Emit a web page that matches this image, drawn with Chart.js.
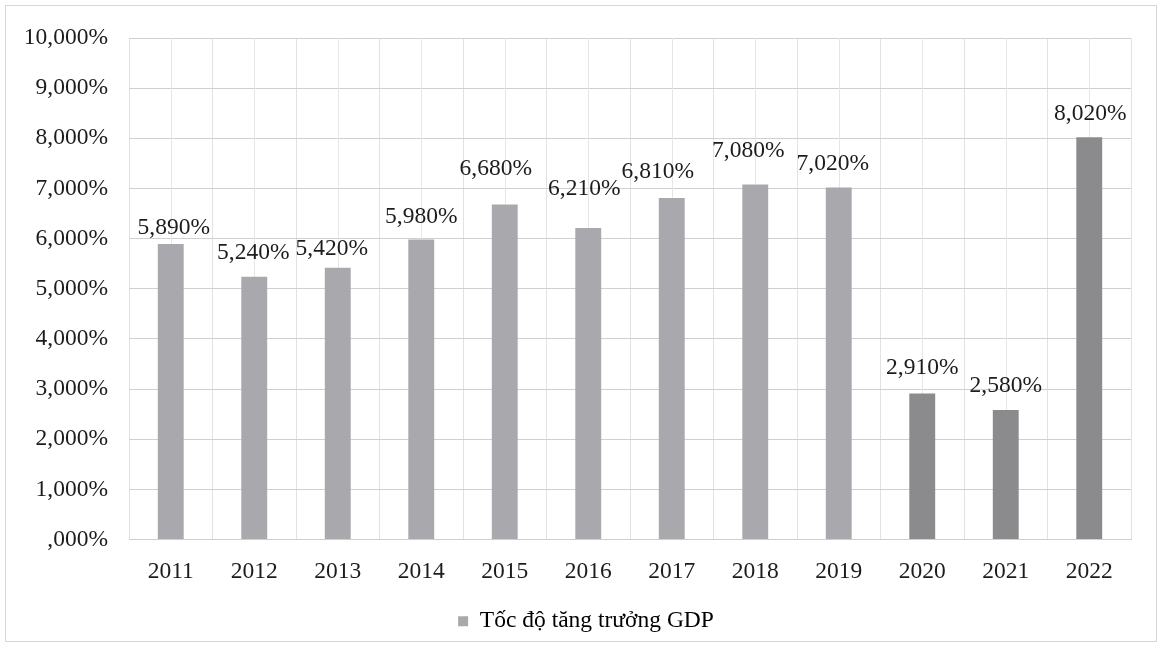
<!DOCTYPE html>
<html>
<head>
<meta charset="utf-8">
<script src="https://cdn.jsdelivr.net/npm/chart.js@4"></script>
<style>
  html, body { margin: 0; padding: 0; background: #fff; }
  #wrap { position: relative; width: 1160px; height: 655px; }
  #frame { position: absolute; left: 5px; top: 5px; width: 1152px; height: 637px; border: 1px solid #d6d6d6; box-sizing: border-box; pointer-events: none; }
  canvas { position: absolute; left: 0; top: 0; }
</style>
</head>
<body>
<div id="wrap">
  <canvas id="c" width="1160" height="655"></canvas>
  <div id="frame"></div>
</div>
<script>
const categories = ["2011","2012","2013","2014","2015","2016","2017","2018","2019","2020","2021","2022"];
const gdpGrowth = [5.89, 5.24, 5.42, 5.98, 6.68, 6.21, 6.81, 7.08, 7.02, 2.91, 2.58, 8.02];
const valueLabels = ["5,890%","5,240%","5,420%","5,980%","6,680%","6,210%","6,810%","7,080%","7,020%","2,910%","2,580%","8,020%"];
const tickLabels = [",000%","1,000%","2,000%","3,000%","4,000%","5,000%","6,000%","7,000%","8,000%","9,000%","10,000%"];
const seriesName = "Tốc độ tăng trưởng GDP";

// label placement tweaks (pixels), matching the reference's manual label positions
const labelRise = [16, 24, 19, 23, 36, 39, 26, 34, 24, 26, 24, 23];
const labelShift = [3, -1, -6, 0, -9, -4, -14, -7, -6, 0, 0, 1];

const FONT = '"Liberation Serif", "Times New Roman", serif';
const FS = 23.5;
const barColors = categories.map((c, i) => i < 9 ? '#a9a8ad' : '#8b8b8d');

const centerGrid = {
  id: 'centerGrid',
  beforeDatasetsDraw(chart) {
    const { ctx, chartArea, scales } = chart;
    ctx.save();
    ctx.strokeStyle = '#e6e6e6';
    ctx.lineWidth = 1;
    categories.forEach((c, i) => {
      const x = Math.round(scales.x.getPixelForValue(i)) + 0.5;
      ctx.beginPath();
      ctx.moveTo(x, chartArea.top);
      ctx.lineTo(x, chartArea.bottom);
      ctx.stroke();
    });
    ctx.restore();
  }
};

const valueLabelPlugin = {
  id: 'valueLabels',
  afterDatasetsDraw(chart) {
    const { ctx } = chart;
    const meta = chart.getDatasetMeta(0);
    ctx.save();
    ctx.font = FS + 'px ' + FONT;
    ctx.fillStyle = '#1c1c1c';
    ctx.textAlign = 'center';
    ctx.textBaseline = 'middle';
    meta.data.forEach((bar, i) => {
      ctx.fillText(valueLabels[i], bar.x + labelShift[i], bar.y - labelRise[i]);
    });
    ctx.restore();
  }
};

new Chart(document.getElementById('c'), {
  type: 'bar',
  data: {
    labels: categories,
    datasets: [{
      label: seriesName,
      data: gdpGrowth,
      backgroundColor: barColors,
      borderWidth: 0,
      barPercentage: 0.31,
      categoryPercentage: 1.0
    }]
  },
  options: {
    responsive: false,
    animation: false,
    devicePixelRatio: 1,
    layout: { padding: { left: 12, right: 0, top: 38, bottom: 12 } },
    scales: {
      x: {
        grid: { color: '#e2e2e2', drawTicks: false, offset: true },
        border: { color: '#cfcfcf' },
        ticks: { font: { family: FONT, size: FS }, color: '#1c1c1c', padding: 18 },
        afterFit(scale) { scale.height = 56; }
      },
      y: {
        min: 0, max: 10,
        ticks: {
          stepSize: 1,
          font: { family: FONT, size: FS },
          color: '#1c1c1c',
          padding: 21,
          callback: (v, i) => tickLabels[i]
        },
        grid: { color: '#d0d0d0', drawTicks: false },
        border: { display: false },
        afterFit(scale) { scale.width = 117; }
      },
      spacer: {
        position: 'right',
        grid: { display: false, drawTicks: false },
        ticks: { display: false },
        border: { display: false },
        afterFit(scale) { scale.width = 29; }
      }
    },
    plugins: {
      legend: {
        position: 'bottom',
        labels: {
          font: { family: FONT, size: FS },
          color: '#1c1c1c',
          boxWidth: 10,
          boxHeight: 10,
          padding: 14,
          generateLabels: () => [{ text: seriesName, fillStyle: '#a9a8ad', strokeStyle: '#a9a8ad', lineWidth: 0, datasetIndex: 0 }]
        }
      },
      tooltip: { enabled: false }
    }
  },
  plugins: [centerGrid, valueLabelPlugin]
});
</script>
</body>
</html>
